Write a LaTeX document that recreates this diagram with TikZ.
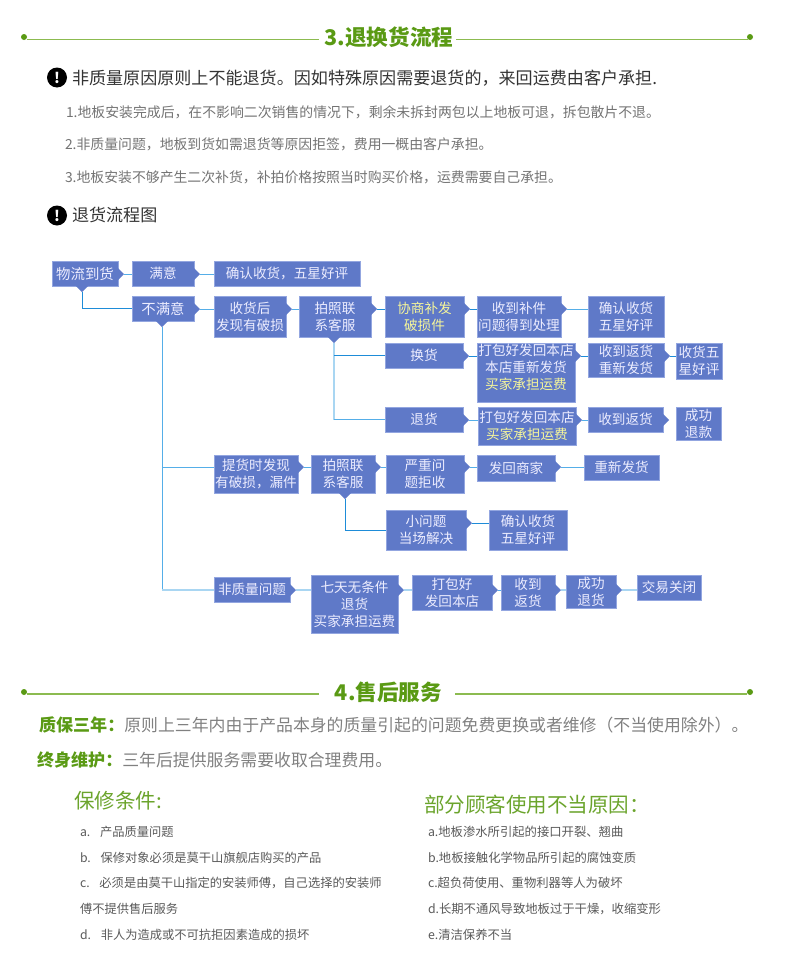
\documentclass[tikz,border=0pt]{standalone}
\usepackage{xcolor}
\usepackage{fontspec}
\setmainfont{Noto Sans CJK SC}
\usepackage{tikz}
\usetikzlibrary{positioning,calc}
\definecolor{leaf}{HTML}{5A9A14}
\definecolor{ruleleaf}{HTML}{8CBB50}
\definecolor{blockblue}{HTML}{5F79C8}
\definecolor{blockedge}{HTML}{93A6E0}
\definecolor{linkblue}{HTML}{55AEE8}
\definecolor{linkdark}{HTML}{1E8CD8}
\definecolor{linkpale}{HTML}{A9D6F2}
\definecolor{hilite}{HTML}{F6F69A}
\newcommand{\fsz}[1]{\fontsize{#1pt}{#1pt}\selectfont}

\begin{document}
\begin{tikzpicture}[x=0.75pt,y=-0.75pt,inner sep=0pt,outer sep=0pt]
\tikzstyle{block}=[draw=blockedge,line width=0.5pt,fill=blockblue,text=white!93!blue,align=center,font=\fontsize{10.2pt}{12.8pt}\selectfont]
\tikzstyle{sized}=[minimum width=#1*0.75pt]
\tikzstyle{tall}=[minimum height=#1*0.75pt]
\tikzstyle{tipfill}=[fill=blockblue]
\tikzstyle{link}=[draw=linkblue,line width=0.7pt]
\tikzstyle{darklink}=[draw=linkdark,line width=0.7pt]
\tikzstyle{palelink}=[draw=linkpale,line width=0.9pt]
\tikzstyle{heading}=[font=\fsz{16.2}\bfseries,text=leaf]
\tikzstyle{rulerline}=[draw=ruleleaf,line width=0.8pt]
\tikzstyle{dotmark}=[circle,fill=leaf,minimum size=4.5pt]
\tikzstyle{warn}=[circle,fill=black,text=white,minimum size=15pt,font=\fsz{11}\bfseries]
\tikzstyle{lead}=[anchor=west,font=\fsz{12.8},text=black!80]
\tikzstyle{rulenote}=[anchor=west,font=\fsz{10.4},text=black!55]
\tikzstyle{strong}=[anchor=west,font=\fsz{12.8}\bfseries,text=leaf]
\tikzstyle{plain}=[font=\fsz{12.65},text=black!50]
\tikzstyle{subhead}=[anchor=west,font=\fsz{15.4},text=leaf!90!white]
\tikzstyle{leftitem}=[anchor=west,font=\fsz{9.2},text=black!65]
\tikzstyle{rightitem}=[anchor=west,font=\fsz{9.25},text=black!65]
\useasboundingbox (0,0) rectangle (790,967);

% section 3
\node[heading] (title3) at (389,37) {3.退换货流程};
\node[dotmark] (dot3a) at (24,37) {};
\node[dotmark] (dot3b) at (750,37) {};
\coordinate (rule3a) at (27,39.3);
\coordinate (rule3b) at (748,39.3);
\draw[rulerline] (rule3a) -- ($(rule3a -| title3.west)+(-6,0)$);
\draw[rulerline] (rule3b) -- ($(rule3b -| title3.east)+(3,0)$);
\node[warn] (warn1) at (57,77.5) {!};
\node[lead] (lead1) at (72,78) {非质量原因原则上不能退货。因如特殊原因需要退货的，来回运费由客户承担.};
\node[rulenote] (note1) at (66,112) {1.地板安装完成后，在不影响二次销售的情况下，剩余未拆封两包以上地板可退，拆包散片不退。};
\node[rulenote] (note2) at (65,144) {2.非质量问题，地板到货如需退货等原因拒签，费用一概由客户承担。};
\node[rulenote] (note3) at (65,177) {3.地板安装不够产生二次补货，补拍价格按照当时购买价格，运费需要自己承担。};
\node[warn] (warn2) at (57,215.5) {!};
\node[lead] (lead2) at (72,215) {退货流程图};

% flow chart
\node[block,sized=66,tall=25,anchor=north west,font=\fsz{10.8}] (gen) at (52,261) {物流到货};
\node[block,sized=62,tall=25,below right=0pt and 10.5pt of gen.north east] (ok) {满意};
\node[block,sized=146,tall=25,below right=0pt and 15pt of ok.north east] (okdone) {确认收货，五星好评};

\node[block,sized=62,tall=25,below=7.5pt of ok,font=\fsz{10.8}] (nosat) {不满意};
\node[block,sized=72,tall=41,below right=0pt and 15pt of nosat.north east] (found) {收货后\\发现有破损};
\node[block,sized=72,tall=41,below right=0pt and 9.75pt of found.north east] (photo) {拍照联\\系客服};
\node[block,sized=79,tall=41,below right=0pt and 10.5pt of photo.north east] (nego) {\textcolor{hilite}{协商补发}\\\textcolor{hilite}{破损件}};
\node[block,sized=84,tall=41,below right=0pt and 9.75pt of nego.north east] (part) {收到补件\\问题得到处理};
\node[block,sized=76,tall=41,below right=0pt and 20.25pt of part.north east] (partok) {确认收货\\五星好评};

\node[block,sized=78,tall=25,below right=4.5pt and 0pt of nego.south west] (swap) {换货};
\node[block,sized=98,tall=59,below right=0pt and 10.5pt of swap.north east] (swappack) {打包好发回本店\\本店重新发货\\\textcolor{hilite}{买家承担运费}\rule[-8.5pt]{0pt}{8.5pt}};
\node[block,sized=76,tall=34,below right=0pt and 9.75pt of swappack.north east] (swapgot) {收到返货\\重新发货};
\node[block,sized=46,tall=36,below right=0pt and 9pt of swapgot.north east] (swapok) {收货五\\星好评};

\node[block,sized=78,tall=25,below right=29.25pt and 0pt of swap.south west] (ret) {退货};
\node[block,sized=98,tall=38,below right=0pt and 11.25pt of ret.north east] (retpack) {打包好发回本店\\\textcolor{hilite}{买家承担运费}};
\node[block,sized=75,tall=25,below right=0pt and 9pt of retpack.north east] (retgot) {收到返货};
\node[block,sized=45,tall=33,below right=0pt and 9.75pt of retgot.north east] (retok) {成功\\退款};

\node[block,sized=84,tall=38,below right=88.5pt and 0pt of found.south west] (pick) {提货时发现\\有破损，漏件};
\node[block,sized=64,tall=38,below right=0pt and 9.75pt of pick.north east] (photob) {拍照联\\系客服};
\node[block,sized=78,tall=38,below right=0pt and 8.25pt of photob.north east] (severe) {严重问\\题拒收};
\node[block,sized=78,tall=26,below right=0pt and 9.75pt of severe.north east] (sendback) {发回商家};
\node[block,sized=75,tall=25,below right=0pt and 21.75pt of sendback.north east] (resend) {重新发货};

\node[block,sized=80,tall=40,below right=12.75pt and 0pt of severe.south west] (minor) {小问题\\当场解决};
\node[block,sized=78,tall=40,below right=0pt and 17.25pt of minor.north east] (minorok) {确认收货\\五星好评};

\node[block,sized=76,tall=25,below right=63pt and 0pt of pick.south west] (nq) {非质量问题};
\node[block,sized=87,tall=58,below right=-1.5pt and 15.75pt of nq.north east] (seven) {七天无条件\\退货\\买家承担运费};
\node[block,sized=80,tall=35,below right=0pt and 10.5pt of seven.north east] (nqpack) {打包好\\发回本店};
\node[block,sized=54,tall=35,below right=0pt and 6.75pt of nqpack.north east] (nqgot) {收到\\返货};
\node[block,sized=50,tall=33,below right=0pt and 8.25pt of nqgot.north east] (nqdone) {成功\\退货};
\node[block,sized=64,tall=25,below right=0pt and 15.75pt of nqdone.north east] (closed) {交易关闭};

\foreach \n/\d in {gen/13,ok/13,nosat/13,found/13,photo/13,nego/13,part/13,swap/13,swappack/13,swapgot/13,ret/13,retpack/13,retgot/13,pick/12,photob/12,severe/12,sendback/12,minor/13,nq/13,seven/15,nqpack/15,nqgot/15,nqdone/15} {
  \coordinate (t\n) at ($(\n.north east)+(6,\d)$);
  \fill[tipfill] (t\n) -- ++(-7,-7) -- ++(0,14) -- cycle;
}
\foreach \n/\d in {gen/30,nosat/30,photo/35,photob/34} {
  \coordinate (b\n) at ($(\n.south west)+(\d,6)$);
  \fill[tipfill] (b\n) -- ++(-7,-7) -- ++(14,0) -- cycle;
}

\foreach \a/\b in {gen/ok,ok/okdone,nosat/found,found/photo,part/partok,retpack/retgot,ret/retpack,pick/photob,photob/severe,severe/sendback,sendback/resend,nqpack/nqgot}
  \draw[link] (t\a) -- (t\a -| \b.west);
\foreach \a/\b in {photo/nego,nego/part,swap/swappack,swappack/swapgot,swapgot/swapok,minor/minorok}
  \draw[darklink] (t\a) -- (t\a -| \b.west);
\foreach \a/\b in {nq/seven,seven/nqpack,nqgot/nqdone,nqdone/closed}
  \draw[palelink] (t\a) -- (t\a -| \b.west);

\draw[darklink] (bgen) |- (nosat.west);
\draw[link] (bnosat) |- (tpick -| pick.west);
\draw[link] (bnosat) |- (tnq -| nq.west);
\draw[palelink] (tnq -| bnosat) -- (tnq -| nq.west);
\draw[palelink] (bphoto) -- (bphoto |- ret.west);
\draw[darklink] (bphoto |- swap.west) -- (swap.west);
\draw[link] (bphoto |- ret.west) -- (ret.west);
\draw[darklink] (bphotob) |- (minor.west);

% section 4
\node[heading] (title4) at (388.5,692) {4.售后服务};
\node[dotmark] (dot4a) at (24,692) {};
\node[dotmark] (dot4b) at (750,692) {};
\coordinate (rule4a) at (27,694);
\coordinate (rule4b) at (747,694);
\draw[rulerline] (rule4a) -- ($(rule4a -| title4.west)+(-16,0)$);
\draw[rulerline] (rule4b) -- ($(rule4b -| title4.east)+(13,0)$);

\node[strong] (keep) at (39,725) {质保三年：};
\node[plain,right=0pt of keep] (keeptxt) {原则上三年内由于产品本身的质量引起的问题免费更换或者维修（不当使用除外）。};
\node[strong] (life) at (37,760) {终身维护：};
\node[plain,right=0pt of life] (lifetxt) {三年后提供服务需要收取合理费用。};

\node[subhead] (cond) at (74,801) {保修条件:};
\node[leftitem] (conda) at (80,832) {a.\hspace{0.8em}产品质量问题};
\node[leftitem] (condb) at (80,858) {b.\hspace{0.8em}保修对象必须是莫干山旗舰店购买的产品};
\node[leftitem] (condc) at (80,883) {c.\hspace{0.8em}必须是由莫干山指定的安装师傅，自己选择的安装师};
\node[leftitem] (condcc) at (80,909) {傅不提供售后服务};
\node[leftitem] (condd) at (80,935) {d.\hspace{0.8em}非人为造成或不可抗拒因素造成的损坏};

\node[subhead] (why) at (424,805) {部分顾客使用不当原因：};
\node[rightitem] (whya) at (428,832) {a.地板渗水所引起的接口开裂、翘曲};
\node[rightitem] (whyb) at (428,858) {b.地板接触化学物品所引起的腐蚀变质};
\node[rightitem] (whyc) at (428,883) {c.超负荷使用、重物利器等人为破坏};
\node[rightitem] (whyd) at (428,909) {d.长期不通风导致地板过于干燥，收缩变形};
\node[rightitem] (whye) at (428,935) {e.清洁保养不当};
\end{tikzpicture}
\end{document}
